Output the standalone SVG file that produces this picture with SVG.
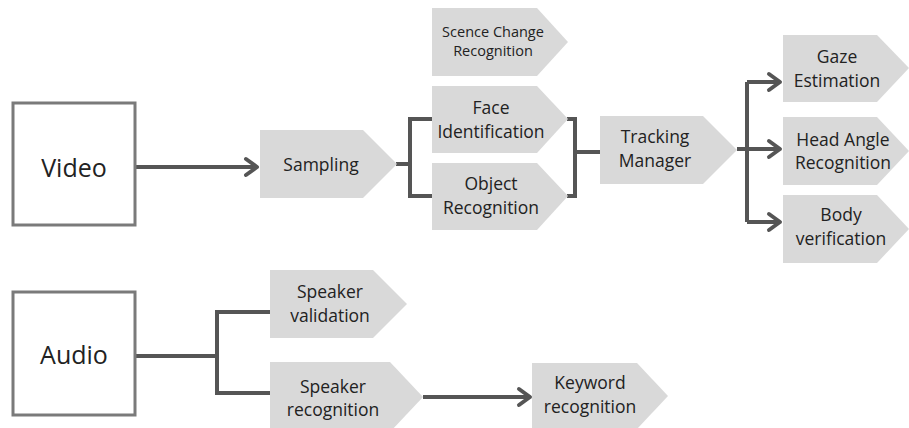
<svg xmlns="http://www.w3.org/2000/svg" width="909" height="428" viewBox="0 0 909 428">
<defs>
<style>
.box{fill:#fff;stroke:#7a7a7a;stroke-width:3}
.tag{fill:#d9d9d9}
.t{font-family:"Open Sans","Noto Sans",sans-serif;fill:#222;text-anchor:middle;font-size:17.5px}
.big{font-size:25px}
.sm{font-size:14.5px}
.c{fill:none;stroke:#555;stroke-width:4;stroke-linejoin:miter}
</style>
<marker id="ah" markerUnits="userSpaceOnUse" markerWidth="22" markerHeight="24" viewBox="0 0 22 24" refX="17" refY="12" orient="auto">
<path d="M6,4 L17,12 L6,20" fill="none" stroke="#555" stroke-width="4" stroke-linecap="round" stroke-linejoin="round"/>
</marker>
</defs>
<rect width="909" height="428" fill="#fff"/>
<g id="connectors">
<path class="c" d="M135,167 H257" marker-end="url(#ah)"/>
<path class="c" d="M396,164 H410 M432,119 H410 V196 H432"/>
<path class="c" d="M567,119 H575 V196 H567 M575,152 H600"/>
<path class="c" d="M737,149 H747"/>
<path class="c" d="M747,82 V222"/>
<path class="c" d="M747,82 H780" marker-end="url(#ah)"/>
<path class="c" d="M747,149 H780" marker-end="url(#ah)"/>
<path class="c" d="M747,222 H780" marker-end="url(#ah)"/>
<path class="c" d="M135,356 H217 M270,312 H217 V393 H270"/>
<path class="c" d="M423,397 H530" marker-end="url(#ah)"/>
</g>
<g id="video"><rect class="box" x="13" y="103" width="122" height="122"/><text class="t big" x="74" y="177">Video</text></g>
<g id="audio"><rect class="box" x="13" y="292" width="122" height="123"/><text class="t big" x="74" y="364">Audio</text></g>
<g id="sampling"><polygon class="tag" points="260,130 363,130 397,164 363,198 260,198"/><text class="t" x="321" y="171">Sampling</text></g>
<g id="scene"><polygon class="tag" points="432,8 537,8 568,42 537,76 432,76"/><text class="t sm" x="493" y="37">Scence Change</text><text class="t sm" x="493" y="56">Recognition</text></g>
<g id="face"><polygon class="tag" points="432,86 537,86 568,119 537,153 432,153"/><text class="t" x="491" y="114">Face</text><text class="t" x="491" y="138">Identification</text></g>
<g id="object"><polygon class="tag" points="432,163 537,163 568,196 537,230 432,230"/><text class="t" x="491" y="190">Object</text><text class="t" x="491" y="214">Recognition</text></g>
<g id="tracking"><polygon class="tag" points="600,116 703,116 737,150 703,184 600,184"/><text class="t" x="655" y="143">Tracking</text><text class="t" x="655" y="167">Manager</text></g>
<g id="gaze"><polygon class="tag" points="783,35 877,35 909,68 877,102 783,102"/><text class="t" x="837" y="63">Gaze</text><text class="t" x="837" y="87">Estimation</text></g>
<g id="head"><polygon class="tag" points="783,117 877,117 909,151 877,185 783,185"/><text class="t" x="843" y="146">Head Angle</text><text class="t" x="843" y="169">Recognition</text></g>
<g id="body"><polygon class="tag" points="783,195 877,195 909,229 877,263 783,263"/><text class="t" x="841" y="221">Body</text><text class="t" x="841" y="245">verification</text></g>
<g id="spkval"><polygon class="tag" points="270,270 373,270 407,304 373,338 270,338"/><text class="t" x="330" y="298">Speaker</text><text class="t" x="330" y="322">validation</text></g>
<g id="spkrec"><polygon class="tag" points="270,362 390,362 423,397 390,432 270,432"/><text class="t" x="333" y="393">Speaker</text><text class="t" x="333" y="416">recognition</text></g>
<g id="keyword"><polygon class="tag" points="532,363 637,363 668,396 637,429 532,429"/><text class="t" x="590" y="389">Keyword</text><text class="t" x="590" y="413">recognition</text></g>
</svg>
